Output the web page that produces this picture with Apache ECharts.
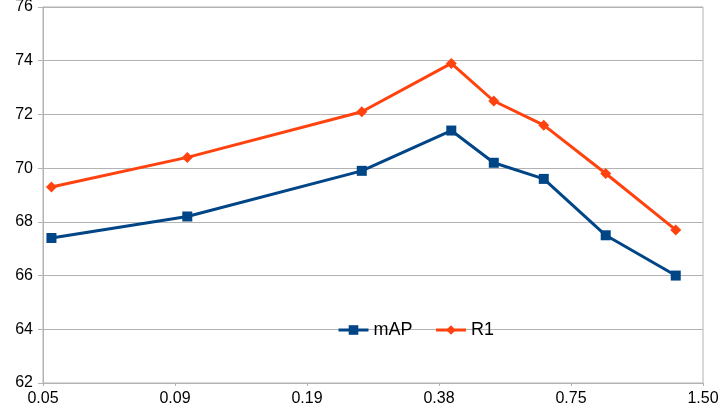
<!DOCTYPE html>
<html>
<head>
<meta charset="utf-8">
<script src="https://cdn.jsdelivr.net/npm/echarts@6/dist/echarts.min.js"></script>
<style>
html,body{margin:0;padding:0;background:#fff;}
#chart{width:727px;height:414px;}
</style>
</head>
<body>
<div id="chart"></div>
<script>
// ---- data ----
var xValues = [0.049, 0.1, 0.25, 0.4, 0.5, 0.65, 0.9, 1.3];
var mAP = [67.4, 68.2, 69.9, 71.4, 70.2, 69.6, 67.5, 66.0];
var R1 = [69.3, 70.4, 72.1, 73.9, 72.5, 71.6, 69.8, 67.7];
var xTickValues = [0.046875, 0.09375, 0.1875, 0.375, 0.75, 1.5];
var xTickLabels = ['0.05', '0.09', '0.19', '0.38', '0.75', '1.50'];
var yTickLabels = ['62', '64', '66', '68', '70', '72', '74', '76'];

function pairs(ys) {
  return xValues.map(function (x, i) { return [x, ys[i]]; });
}
function xLabel(v) {
  var best = 0, bd = Infinity;
  for (var i = 0; i < xTickValues.length; i++) {
    var d = Math.abs(Math.log(v) - Math.log(xTickValues[i]));
    if (d < bd) { bd = d; best = i; }
  }
  return xTickLabels[best];
}

var gridColor = '#b3b3b3';
var font = 'Liberation Sans';
var chart = echarts.init(document.getElementById('chart'), null, { renderer: 'canvas' });
chart.setOption({
  animation: false,
  backgroundColor: '#ffffff',
  textStyle: { fontFamily: font },
  grid: {
    left: 43, right: 24, top: 7, bottom: 31,
    show: true, borderColor: gridColor, borderWidth: 1,
    containLabel: false, outerBoundsMode: 'none'
  },
  legend: {
    left: 337, top: 321, padding: 0,
    itemWidth: 30, itemHeight: 12, itemGap: 22,
    lineStyle: { width: 3 },
    textStyle: { fontFamily: font, fontSize: 18, color: '#000' },
    data: ['mAP', 'R1']
  },
  xAxis: {
    type: 'log', logBase: 2,
    min: xTickValues[0], max: xTickValues[xTickValues.length - 1],
    axisLine: { show: true, lineStyle: { color: gridColor, width: 1 } },
    axisTick: { show: true, length: 3, customValues: xTickValues, lineStyle: { color: gridColor } },
    axisLabel: {
      customValues: xTickValues,
      fontFamily: font, fontSize: 16, color: '#000', margin: 8,
      formatter: function (v) { return xLabel(v); }
    },
    splitLine: { show: false },
    minorTick: { show: false }, minorSplitLine: { show: false }
  },
  yAxis: {
    type: 'value', min: 62, max: 76, interval: 2,
    axisLine: { show: true, lineStyle: { color: gridColor, width: 1 } },
    axisTick: { show: true, length: 5, lineStyle: { color: gridColor } },
    axisLabel: {
      fontFamily: font, fontSize: 16, color: '#000', margin: 10,
      formatter: function (v) { return yTickLabels[Math.round((v - 62) / 2)]; }
    },
    splitLine: { show: true, lineStyle: { color: gridColor, width: 1 } }
  },
  series: [
    {
      name: 'mAP', type: 'line', data: pairs(mAP),
      symbol: 'rect', symbolSize: 10, showAllSymbol: true,
      itemStyle: { color: '#004586' },
      lineStyle: { color: '#004586', width: 3 },
      emphasis: { disabled: true }
    },
    {
      name: 'R1', type: 'line', data: pairs(R1),
      symbol: 'diamond', symbolSize: 11, showAllSymbol: true,
      itemStyle: { color: '#ff420e' },
      lineStyle: { color: '#ff420e', width: 3 },
      emphasis: { disabled: true }
    }
  ]
});
</script>
</body>
</html>
